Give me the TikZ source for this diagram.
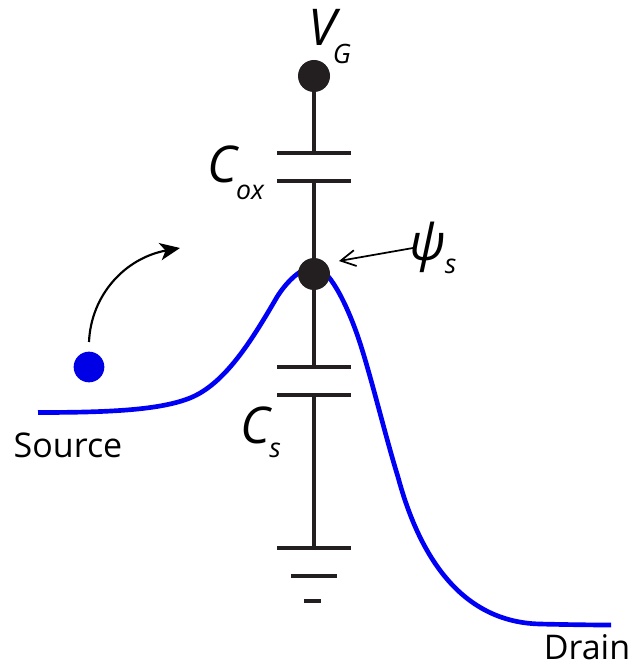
\documentclass[tikz,border=0pt]{standalone}
\usepackage{fontspec}
\usepackage{xcolor}
\usetikzlibrary{arrows.meta,positioning}
\setmainfont{Open Sans}
\definecolor{wireblack}{RGB}{35, 31, 32}
\definecolor{curveblue}{RGB}{0, 0, 245}
\definecolor{dotblue}{RGB}{0, 0, 230}

\begin{document}
\begin{tikzpicture}[
    x=0.75pt, y=-0.75pt,
    every node/.style={inner sep=0pt, outer sep=0pt},
    terminal/.style={circle, minimum size=24pt, fill=wireblack},
    carrier/.style={circle, minimum size=23pt, fill=dotblue},
    plate/.style={rectangle, minimum height=3.4pt, minimum width=55.5pt, fill=wireblack},
    plateb/.style={plate, minimum width=34.5pt},
    platec/.style={plate, minimum width=13pt},
    wire/.style={draw=wireblack, line width=3.4pt},
    band/.style={draw=curveblue, line width=3.5pt},
    arrow/.style={black, line width=1.6pt, -{Stealth[length=15pt, width=13pt, inset=4pt]}},
    thinarrow/.style={black, line width=1.3pt, -{Straight Barb[length=11pt, width=12pt]}},
    symb/.style={font=\fontsize{38}{38}\selectfont\itshape},
    subs/.style={font=\fontsize{20}{20}\selectfont\itshape},
    namelabel/.style={font=\fontsize{25.5}{25.5}\selectfont}
]
\useasboundingbox (0,0) rectangle (634,666);

% Energy band
\coordinate (bandleft) at (38,412.5);
\coordinate (bandright) at (611,625);
\draw[band] (bandleft) .. controls (110,412.5) and (160,410) .. (190,398)
    .. controls (225,384) and (252,340) .. (277,297)
    .. controls (287,281) and (302,267) .. (314,267)
    .. controls (328,267) and (346,302) .. (358,337)
    .. controls (370,372) and (385,435) .. (398,477)
    .. controls (415,540) and (452,622) .. (540,624)
    .. controls (560,624.5) and (590,625) .. (bandright);

% Terminals
\node[terminal] (gate) at (314,76) {};
\node[terminal] (surface) at (314,274) {};
\node[carrier] (electron) at (89,367) {};

% Capacitor plates
\node[plate] (oxtop) at (314,153) {};
\node[plate] (oxbottom) at (314,181) {};
\node[plate] (stop) at (314,367) {};
\node[plate] (sbottom) at (314,395) {};

% Ground
\node[plate] (gndtop) at (314,548) {};
\node[plateb] (gndmid) at (314,576) {};
\node[platec] (gndlow) at (312.5,601) {};

% Wires
\draw[wire] (gate) -- (oxtop);
\draw[wire] (oxbottom) -- (surface);
\draw[wire] (surface) -- (stop);
\draw[wire] (sbottom) -- (gndtop);

% Labels
\node[symb] (vg) at (322,27.5) {V};
\node[subs] (vgsub) at (342,54) {G};
\node[symb] (cox) at (222,164) {C};
\node[subs] (coxsub) at (250,192) {ox};
\node[symb] (psi) at (428,247) {ψ};
\node[subs] (psisub) at (450.5,266) {s};
\node[symb] (cs) at (255.5,425) {C};
\node[subs] (cssub) at (275,450) {s};
\node[namelabel, anchor=base] (source) at (68,457) {Source};
\node[namelabel, anchor=base] (drain) at (587,659) {Drain};

% Arrows
\coordinate (arcstart) at (89,342);
\coordinate (arcend) at (180,248);
\coordinate (psitail) at (413,248);
\coordinate (psihead) at (339,261);
\draw[arrow] (arcstart) .. controls (91,295) and (125,258) .. (arcend);
\draw[thinarrow] (psitail) -- (psihead);

\end{tikzpicture}
\end{document}
